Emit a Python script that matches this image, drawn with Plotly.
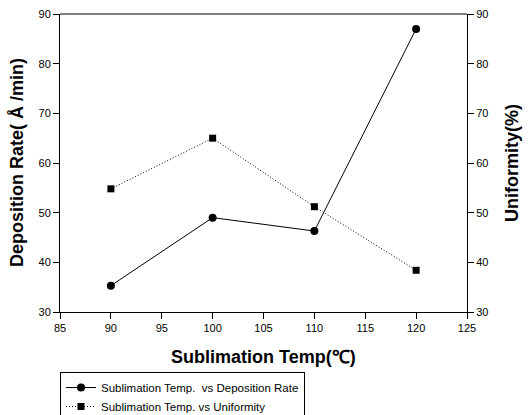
import plotly.graph_objects as go

temps = [90, 100, 110, 120]
deposition_rate = [35.3, 49.0, 46.3, 87.0]
uniformity = [54.8, 65.0, 51.2, 38.4]

FONT = "Liberation Sans, Arial"

fig = go.Figure()
fig.add_trace(go.Scatter(
    x=temps, y=deposition_rate, mode="lines+markers",
    name="Sublimation Temp.  vs Deposition Rate",
    line=dict(color="black", width=1),
    marker=dict(symbol="circle", size=8, color="black"),
))
fig.add_trace(go.Scatter(
    x=temps, y=uniformity, mode="lines+markers",
    name="Sublimation Temp. vs Uniformity",
    line=dict(color="black", width=1, dash="1px,2px"),
    marker=dict(symbol="square", size=7, color="black"),
    yaxis="y2",
))

axis_common = dict(
    showgrid=False, zeroline=False, showline=True, linecolor="black", linewidth=1,
    ticks="outside", ticklen=6, tickcolor="black", tickwidth=1, automargin=False,
    tickfont=dict(family=FONT, size=11, color="black"),
)

fig.update_layout(
    width=531, height=415,
    margin=dict(l=60, r=64, t=14, b=103),
    paper_bgcolor="white", plot_bgcolor="white",
    font=dict(family=FONT, color="black"),
    xaxis=dict(range=[85, 125], dtick=5, **axis_common),
    yaxis=dict(range=[30, 90], dtick=10, **axis_common),
    yaxis2=dict(range=[30, 90], dtick=10, overlaying="y", side="right", **axis_common),
    showlegend=True,
    legend=dict(x=0, y=1 - 372 / 415, xanchor="left", yanchor="top", yref="container",
                bordercolor="black", borderwidth=1, bgcolor="white",
                font=dict(size=11.5, family=FONT),
                tracegroupgap=0, itemwidth=30),
    annotations=[
        dict(text="<b>Sublimation Temp(℃)</b>", xref="paper", yref="paper",
             x=0.5, y=(312.3 - 357) / 298.6, showarrow=False, font=dict(size=18),
             xanchor="center", yanchor="middle"),
        dict(text="<b>Deposition Rate( Å /min)</b>", xref="paper", yref="paper",
             x=(17 - 60) / 407, y=0.5, showarrow=False, font=dict(size=18), textangle=-90,
             xanchor="center", yanchor="middle"),
        dict(text="<b>Uniformity(%)</b>", xref="paper", yref="paper",
             x=(512 - 60) / 407, y=0.5, showarrow=False, font=dict(size=18), textangle=-90,
             xanchor="center", yanchor="middle"),
    ],
)
fig.add_shape(type="line", xref="paper", yref="paper", x0=0, x1=1, y0=1, y1=1,
              line=dict(color="black", width=1))

fig.write_html("out.html", config={"displayModeBar": False},
               post_script="document.body.style.margin='0';document.body.style.overflow='hidden';")
